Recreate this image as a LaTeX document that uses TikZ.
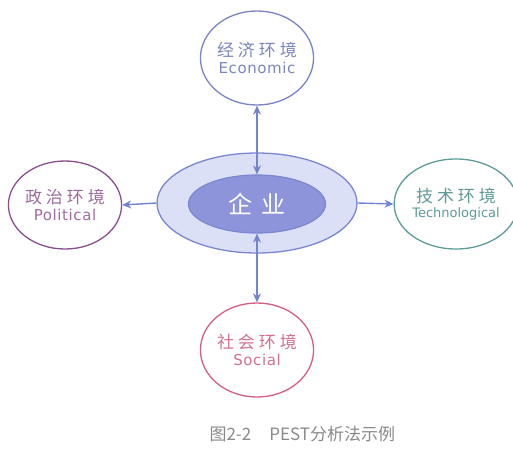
\documentclass[tikz,border=0pt]{standalone}
\usepackage{fontspec}
\setmainfont{Noto Sans CJK SC}
\newfontfamily\lat{DejaVu Sans}[LetterSpace=4]
\newfontfamily\latn{DejaVu Sans}
\usetikzlibrary{arrows.meta,shapes.geometric}
\definecolor{econ}{HTML}{7A82C8}
\definecolor{econtxt}{HTML}{7C86BE}
\definecolor{poli}{HTML}{8A4F8C}
\definecolor{politxt}{HTML}{9C6C9E}
\definecolor{tech}{HTML}{5E9C98}
\definecolor{techtxt}{HTML}{5E9A96}
\definecolor{soc}{HTML}{D45F80}
\definecolor{soctxt}{HTML}{D27092}
\definecolor{outerfill}{HTML}{DCE0F6}
\definecolor{outerdraw}{HTML}{7C86D0}
\definecolor{innerfill}{HTML}{8E94DA}
\definecolor{arrowc}{HTML}{7482D2}
\definecolor{captc}{HTML}{8A8A8A}
\newcommand{\cnl}[1]{{\fontsize{17}{20}\selectfont #1}}
\newcommand{\enl}[2]{{\lat\fontsize{#1}{18}\selectfont #2}}
\tikzset{
  envcircle/.style={ellipse, line width=1.3pt, minimum width=98pt, minimum height=94pt, inner sep=0pt, align=center, fill=white},
  conn/.style={draw=arrowc, line width=1.4pt, -{Stealth[length=9pt,width=8pt]}},
  conn2/.style={draw=arrowc, line width=1.4pt, {Stealth[length=9pt,width=8pt]}-{Stealth[length=9pt,width=8pt]}}
}
\begin{document}
\begin{tikzpicture}[x=1pt,y=-1pt]
\useasboundingbox (0,0) rectangle (513,455);
\fill[white] (0,0) rectangle (513,455);
% central ellipses
\node[ellipse, draw=outerdraw, fill=outerfill, line width=1.3pt, minimum width=200pt, minimum height=100pt] (outer) at (257,203) {};
\node[ellipse, draw=outerdraw, fill=innerfill, line width=1.2pt, minimum width=137pt, minimum height=58pt, text=white, font=\fontsize{24}{26}\selectfont] (inner) at (257,204) {企\hspace{10pt}业};
% environment circles
\node[envcircle, draw=econ, text=econtxt] (econ) at (257,58) {\cnl{经\hspace{4pt}济\hspace{4pt}环\hspace{4pt}境}\\[3pt]\enl{15}{Economic}};
\node[envcircle, draw=poli, minimum width=102pt, minimum height=88pt, text=politxt] (poli) at (65,205) {\cnl{政\hspace{4pt}治\hspace{4pt}环\hspace{4pt}境}\\[3pt]\enl{15}{Political}};
\node[envcircle, draw=tech, minimum width=110pt, minimum height=90pt, text=techtxt] (tech) at (456,204) {\cnl{技\hspace{4pt}术\hspace{4pt}环\hspace{4pt}境}\\[3pt]{\latn\fontsize{13}{16}\selectfont Technological}};
\node[envcircle, draw=soc, minimum width=102pt, minimum height=94pt, text=soctxt] (soc) at (257,350) {\cnl{社\hspace{4pt}会\hspace{4pt}环\hspace{4pt}境}\\[3pt]\enl{15}{Social}};
% connectors
\draw[conn2] (econ.south) -- (inner.north);
\draw[conn2] (inner.south) -- (soc.north);
\draw[conn] (outer.west) -- (poli.east);
\draw[conn] (outer.east) -- (tech.west);
% caption
\node[text=captc, font=\fontsize{17}{19}\selectfont, anchor=west] (cap) at (206,434) {图2-2\hspace{18pt}PEST分析法示例};
\end{tikzpicture}
\end{document}
